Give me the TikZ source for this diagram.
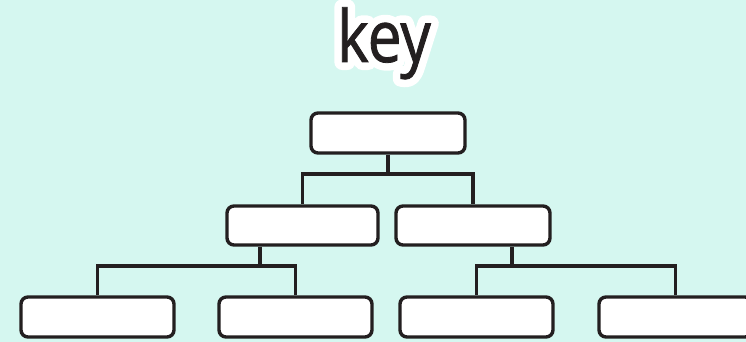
\documentclass[tikz,border=0pt]{standalone}
\usepackage{fontspec}
\newfontfamily\titlefont[FakeStretch=0.84,FakeBold=1.1]{Open Sans}
\newfontfamily\glowfont[FakeStretch=0.84]{Open Sans}
\definecolor{bgmint}{HTML}{D5F7F0}
\definecolor{inkdark}{HTML}{231F20}
\begin{document}
\begin{tikzpicture}[x=1pt,y=-1pt,
  box/.style={draw=inkdark,fill=white,line width=3.4pt,rounded corners=7pt,
    rectangle,inner sep=0pt,minimum height=40pt,minimum width=153pt},
  link/.style={draw=inkdark,line width=3.2pt},
  titletext/.style={anchor=base,inner sep=0pt}]
\useasboundingbox (0,0) rectangle (746,342);
\clip (0,0) rectangle (746,342);
\fill[bgmint] (0,0) rectangle (746,342);
\node[titletext,text=white] (glow) at (384,62)
  {\glowfont\fontsize{72pt}{72pt}\selectfont\special{pdf:literal direct 2 Tr 16 w 1 j 1 J}key\special{pdf:literal direct 0 Tr}};
\node[titletext,text=inkdark] (title) at (384,62)
  {\titlefont\fontsize{72pt}{72pt}\selectfont key};
\node[box,minimum width=154pt] (top) at (388,133) {};
\node[box,minimum width=151pt,minimum height=39pt] (ml) at (302.5,225.5) {};
\node[box,minimum width=154pt,minimum height=39pt] (mr) at (473,225.5) {};
\node[box] (b1) at (97.5,317) {};
\node[box] (b2) at (295.5,317) {};
\node[box] (b3) at (476.5,317) {};
\node[box] (b4) at (675.5,317) {};
\coordinate (tj) at (388,174);
\coordinate (mlj) at (260,266);
\coordinate (mrj) at (512,266);
\draw[link] (top.south) -- (tj);
\draw[link] (tj) -| (ml.north);
\draw[link] (tj) -| (mr.north);
\draw[link] (mlj |- ml.south) -- (mlj);
\draw[link] (mlj) -| (b1.north);
\draw[link] (mlj) -| (b2.north);
\draw[link] (mrj |- mr.south) -- (mrj);
\draw[link] (mrj) -| (b3.north);
\draw[link] (mrj) -| (b4.north);
\end{tikzpicture}
\end{document}
